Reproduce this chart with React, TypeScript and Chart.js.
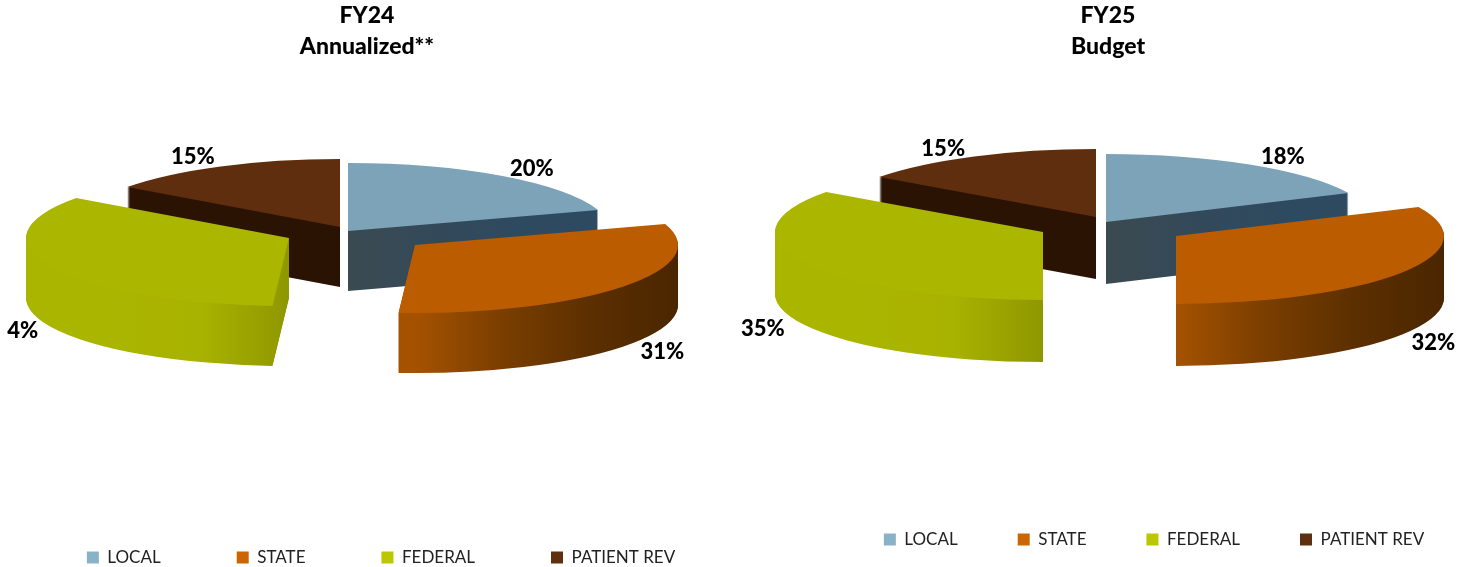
import React, { useEffect, useRef } from "react";
import { Chart, registerables } from "chart.js";

Chart.register(...registerables);

const categories = ["LOCAL", "STATE", "FEDERAL", "PATIENT REV"];
const fy24Values = [20, 31, 34, 15];
const fy25Values = [18, 32, 35, 15];
const fy24Labels = ["20%", "31%", "4%", "15%"];
const fy25Labels = ["18%", "32%", "35%", "15%"];
const fy24Title = ["FY24", "Annualized**"];
const fy25Title = ["FY25", "Budget"];

const topColors = ["#7DA3B8", "#BB5C00", "#ABB600", "#5E2E0E"];
const legendColors = ["#8AB2C6", "#CC6600", "#BBC700", "#5F3010"];
const wallStops = [
  ["#3B4A50", "#33495A", "#2E4A60", "#2E4A60"],
  ["#A55200", "#7A3E00", "#5C2F00", "#4A2600"],
  ["#AAB500", "#AAB500", "#A8B200", "#8F9700"],
  ["#2B1304", "#2B1304", "#2B1304", "#2B1304"],
];
const wallRange = [
  [0.5, 1],
  [0.5, 1],
  [0, 0.5],
  [0, 0.5],
];
const wallDrawOrder = [0, 3, 2, 1];

const pie3d = {
  id: "pie3d",
  afterDatasetsUpdate(chart: any, _a: any, o: any) {
    const arcs = chart.getDatasetMeta(0).data;
    const cx = (chart.chartArea.left + chart.chartArea.right) / 2;
    arcs.forEach((arc: any, i: number) => {
      arc.x = cx + o.tipX[i];
      arc.y = o.tipY[i] / o.squash;
    });
  },
  afterLayout(chart: any, _a: any, o: any) {
    const lg = chart.legend;
    lg.left += o.legendShift;
    lg.right += o.legendShift;
    const h = lg.bottom - lg.top;
    lg.top = o.legendY - lg.options.labels.padding;
    lg.bottom = lg.top + h;
  },
  beforeDatasetsDraw(chart: any, _a: any, o: any) {
    const ctx = chart.ctx;
    const arcs = chart.getDatasetMeta(0).data;
    ctx.save();
    ctx.scale(1, o.squash);
    for (const i of wallDrawOrder) {
      const arc = arcs[i];
      const saved = arc.options;
      const g = ctx.createLinearGradient(arc.x - o.radius, 0, arc.x + o.radius, 0);
      const stops = wallStops[i];
      const [from, to] = wallRange[i];
      stops.forEach((c, k) => {
        g.addColorStop(from + ((to - from) * k) / (stops.length - 1), c);
      });
      arc.options = { ...saved, backgroundColor: g, borderWidth: 0 };
      for (let d = o.depth; d >= 1; d--) {
        ctx.save();
        ctx.translate(0, d / o.squash);
        arc.draw(ctx);
        ctx.restore();
      }
      arc.options = saved;
    }
  },
  afterDatasetsDraw(chart: any, _a: any, o: any) {
    const ctx = chart.ctx;
    ctx.restore();
    const arcs = chart.getDatasetMeta(0).data;
    ctx.save();
    ctx.fillStyle = "#000";
    ctx.font = "900 22px Lato";
    ctx.textAlign = "center";
    ctx.textBaseline = "middle";
    arcs.forEach((arc: any, i: number) => {
      const mid = (arc.startAngle + arc.endAngle) / 2;
      const x = arc.x + Math.cos(mid) * o.radius * 1.19 + o.labelDx[i];
      let y = arc.y * o.squash + Math.sin(mid) * o.radius * o.squash * 1.13 + o.labelDy[i];
      if (Math.sin(mid) > 0) y += o.depth;
      ctx.fillText(o.labels[i], x, y);
    });
    ctx.restore();
  },
};

function makeConfig(values: number[], title: string[], pie: any, legendPadding: number): any {
  return {
    type: "pie",
    plugins: [pie3d],
    data: {
      labels: categories,
      datasets: [
        {
          data: values,
          backgroundColor: topColors,
          borderWidth: 0,
          radius: pie.radius,
          clip: false,
        },
      ],
    },
    options: {
      responsive: false,
      animation: false,
      events: [],
      plugins: {
        tooltip: { enabled: false },
        title: {
          display: true,
          text: title,
          color: "#000",
          font: { family: "Lato", size: 23, weight: "900", lineHeight: 1.35 },
          padding: { top: 0, bottom: 10 },
        },
        legend: {
          position: "bottom",
          labels: {
            color: "#222",
            font: { family: "Lato", size: 17 },
            boxWidth: 12,
            boxHeight: 12,
            padding: legendPadding,
            generateLabels: () =>
              categories.map((text, i) => ({
                text,
                fillStyle: legendColors[i],
                strokeStyle: legendColors[i],
                lineWidth: 0,
                index: i,
                fontColor: "#222",
              })),
          },
        },
        pie3d: pie,
      },
    },
  };
}

const fy24Pie = {
  radius: 263,
  squash: 0.2586,
  depth: 60,
  tipX: [-19, 48, -78, -27],
  tipY: [231, 245, 238, 227],
  labels: fy24Labels,
  labelDx: [0, 0, 17, -5],
  labelDy: [0, 0, 0, -2],
  legendShift: 14,
  legendY: 549,
};
const fy25Pie = {
  radius: 268,
  squash: 0.2537,
  depth: 62,
  tipX: [-2, 68, -65, -12],
  tipY: [222, 236, 232, 217],
  labels: fy25Labels,
  labelDx: [6, -12, 4, -8],
  labelDy: [0, 4, 0, 0],
  legendShift: 46,
  legendY: 531,
};

function PieChart({ cfg, center }: { cfg: any; center: number }) {
  const ref = useRef<HTMLCanvasElement>(null);
  useEffect(() => {
    const chart = new Chart(ref.current as HTMLCanvasElement, cfg);
    return () => chart.destroy();
  }, [cfg]);
  return (
    <canvas
      ref={ref}
      width={840}
      height={567}
      style={{ position: "absolute", left: center - 420, top: 0, width: 840, height: 567 }}
    />
  );
}

const cfg24 = makeConfig(fy24Values, fy24Title, fy24Pie, 76);
const cfg25 = makeConfig(fy25Values, fy25Title, fy25Pie, 60);

export default function App() {
  return (
    <div style={{ position: "fixed", left: 0, top: 0, width: 1474, height: 567, overflow: "hidden", background: "#fff" }}>
      <PieChart cfg={cfg24} center={367} />
      <PieChart cfg={cfg25} center={1108} />
    </div>
  );
}
